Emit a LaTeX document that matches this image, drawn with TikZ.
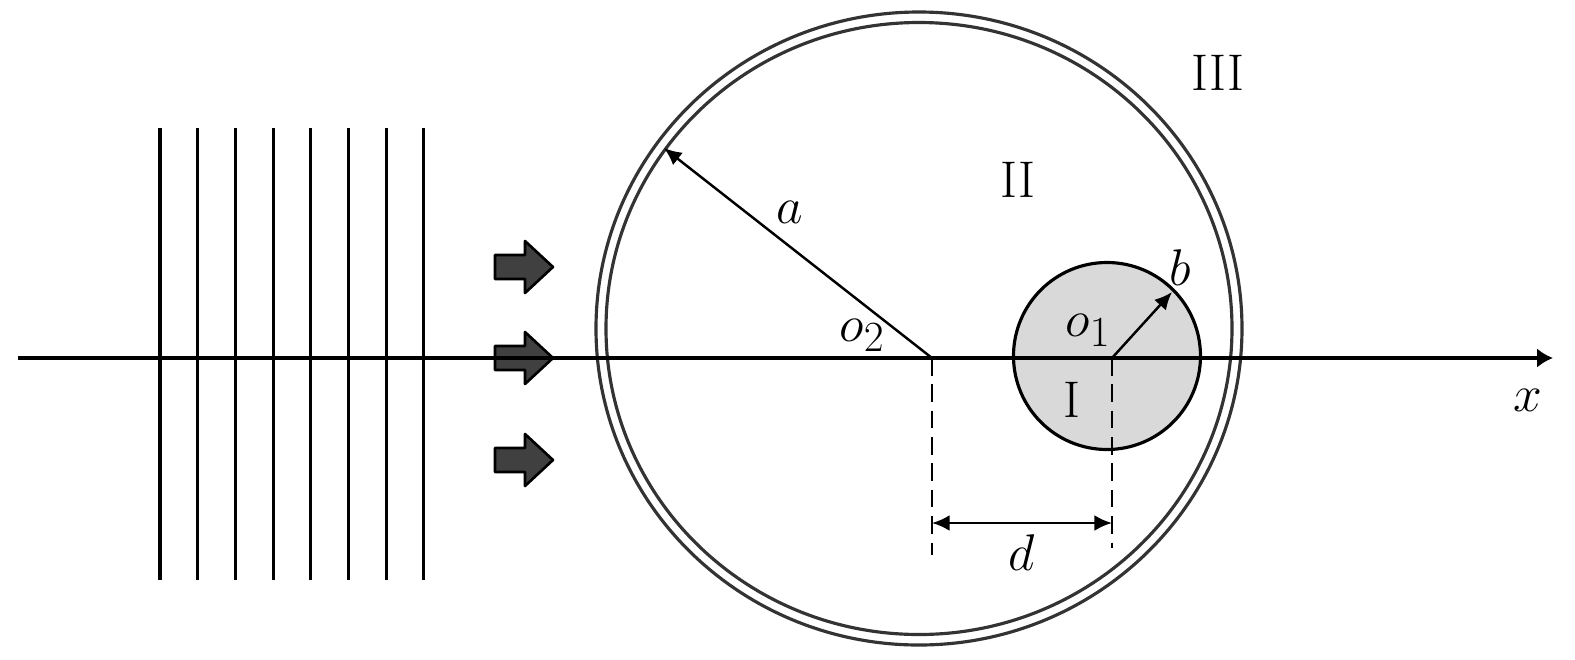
\documentclass[tikz,border=0pt]{standalone}
\usetikzlibrary{arrows.meta}

\begin{document}
\begin{tikzpicture}[
    >={Latex[length=10pt,width=9pt]},
    font=\Huge,
    every node/.style={scale=1.18},
    wave/.style={line width=1.8pt},
    shell/.style={line width=1.8pt,draw=black!80},
    flow/.style={draw=black,fill=black!75,line width=1.5pt,line join=round},
    guide/.style={line width=1.3pt,dash pattern=on 10pt off 5pt},
                ]
            \useasboundingbox (-18.64,-6.02) rectangle (12.86,7.16);

            % incident plane wave
            \foreach \i in {0,...,7}
                \draw[wave] (-15.44+\i*0.754,4.6) -- (-15.44+\i*0.754,-4.44);
            \foreach \y in {1.82,0,-2.04}
                \draw[flow] (-8.74,\y+0.24) -- (-8.14,\y+0.24) -- (-8.14,\y+0.52)
                    -- (-7.58,\y) -- (-8.14,\y-0.52) -- (-8.14,\y-0.24)
                    -- (-8.74,\y-0.24) -- cycle;

            % cylinders
            \coordinate (c2) at (-0.26,0.59);
            \coordinate (c1) at (3.5,0.04);
            \draw[shell] (c2) ellipse (6.46 and 6.33);
            \draw[shell] (c2) ellipse (6.26 and 6.12);
            \draw[line width=1.8pt,fill=black!15] (c1) circle (1.87);

            \coordinate (o2) at (0,0);
            \coordinate (o1) at (3.6,0);
            \coordinate (xstart) at (-18.28,0);
            \coordinate (xend) at (12.42,0);
            \coordinate (atip) at (-5.36,4.2);
            \coordinate (btip) at (4.8,1.32);
            \coordinate (d2) at (0,-3.94);
            \coordinate (d1) at (3.6,-3.8);
            \coordinate (m2) at (0,-3.3);
            \coordinate (m1) at (3.6,-3.3);

            \draw[line width=2.6pt,-{Latex[length=9pt,width=11pt]}] (xstart) to (xend);

            \draw[->,line width=1.4pt] (o2) to (atip);
            \draw[->,line width=1.4pt] (o1) to (btip);

            \draw[guide] (o2) to (d2);
            \draw[guide] (o1) to (d1);
            \draw[<->,line width=1.4pt] (m2) to (m1);

            \node (la) at (-2.84,2.92) {$a$};
            \node (lb) at (4.96,1.8) {$b$};
            \node (lo2) at (-1.4,0.46) {$o_2$};
            \node (lo1) at (3.12,0.56) {$o_1$};
            \node (ld) at (1.8,-3.9) {$d$};
            \node (lx) at (11.92,-0.84) {$x$};
            \node (rI) at (2.8,-0.84) {I};
            \node (rII) at (1.72,3.56) {II};
            \node (rIII) at (5.72,5.7) {III};

            \end{tikzpicture}
\end{document}
